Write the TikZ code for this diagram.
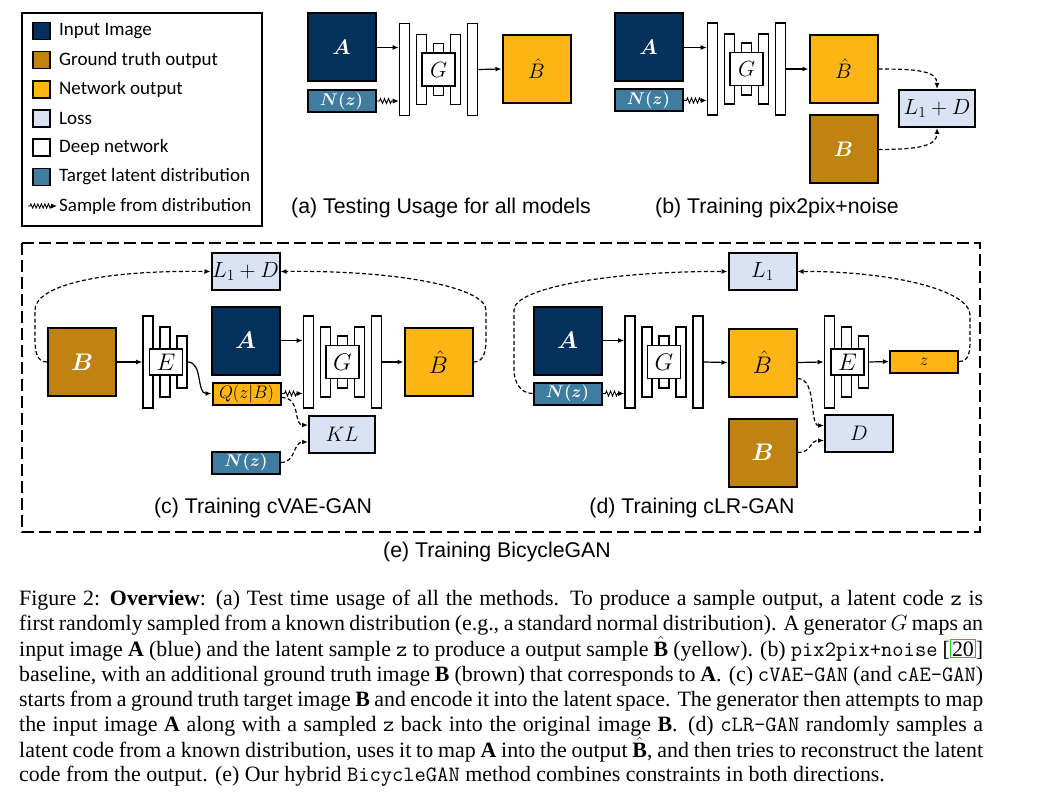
\RequirePackage{fix-cm}
\documentclass[tikz,border=0pt]{standalone}
\usepackage{fontspec}
\setmainfont{Liberation Serif}
\newfontfamily\legfont{Carlito}
\newfontfamily\capfont{Liberation Sans}
\usetikzlibrary{arrows.meta,decorations.pathmorphing}

\definecolor{inblue}{RGB}{3,49,91}
\definecolor{gtbrown}{RGB}{191,130,19}
\definecolor{netgold}{RGB}{253,181,22}
\definecolor{lossblue}{RGB}{218,227,243}
\definecolor{latblue}{RGB}{62,124,160}
\definecolor{citegreen}{RGB}{20,210,20}

\newcommand{\fs}[1]{\fontsize{#1}{#1}\selectfont}

\tikzset{
  box/.style={draw, line width=2pt, inner sep=0pt, minimum width=68pt, minimum height=68pt},
  imgA/.style={box, fill=inblue, text=white, font=\fs{21}\boldmath},
  imgB/.style={box, fill=gtbrown, text=white, font=\fs{21}\boldmath},
  imgBh/.style={box, fill=netgold, font=\fs{21}},
  lossbox/.style={draw, line width=2pt, fill=lossblue, inner sep=0pt, minimum width=68pt, minimum height=37pt},
  latent/.style={draw, line width=2pt, fill=latblue, text=white, inner sep=0pt, minimum width=68pt, minimum height=22pt, font=\fs{17}\boldmath},
  code/.style={latent, fill=netgold, text=black},
  bar/.style={draw, line width=1.6pt, fill=white, inner sep=0pt, minimum width=10pt},
  netbox/.style={draw, line width=1.6pt, fill=white, inner sep=0pt, minimum width=33pt, minimum height=33pt},
  arr/.style={line width=1.2pt, -{Latex[length=6pt,width=5pt]}},
  lossarr/.style={arr, dash pattern=on 4pt off 2.5pt},
  sample/.style={line width=0.9pt, -{Latex[length=6pt,width=5pt]}, decorate,
    decoration={zigzag, amplitude=2.5pt, segment length=4pt, pre length=3pt, post length=6pt}},
  swatch/.style={draw, line width=1.6pt, inner sep=0pt, minimum size=17pt},
  legtext/.style={anchor=west, inner sep=0pt, font=\legfont\fs{19}},
  subcap/.style={inner sep=0pt, font=\capfont\fs{21.3}},
  capline/.style={anchor=base west, inner sep=0pt, font=\fs{21.9}}
}

% generator: name, x, y, size, label
\newcommand{\gennet}[5]{
  \node[bar, minimum height=92pt] (#1l) at ({#2-34},#3) {};
  \node[bar, minimum height=70pt] (#1a) at ({#2-17},#3) {};
  \node[bar, minimum height=52pt] (#1b) at (#2,#3) {};
  \node[bar, minimum height=70pt] (#1c) at ({#2+17},#3) {};
  \node[bar, minimum height=92pt] (#1r) at ({#2+34},#3) {};
  \node[netbox, font=\fs{#4}] (#1) at (#2,#3) {#5};
}
% encoder: name, x, y, size, label
\newcommand{\encnet}[5]{
  \node[bar, minimum height=92pt] (#1l) at ({#2-17},#3) {};
  \node[bar, minimum height=70pt] (#1m) at (#2,#3) {};
  \node[bar, minimum height=52pt] (#1r) at ({#2+17},#3) {};
  \node[netbox, minimum height=26pt, font=\fs{#4}] (#1) at ({#2+1},#3) {#5};
}

\setlength{\fboxsep}{1pt}
\setlength{\fboxrule}{1pt}

\begin{document}
\begin{tikzpicture}[x=1pt,y=-1pt]
\useasboundingbox (0,0) rectangle (1039,805);
\fill[white] (0,0) rectangle (1039,805);

  % legend
\draw[line width=2pt] (22,13) rectangle (262,226);
\foreach \c/\t [count=\i] in {inblue/Input Image, gtbrown/Ground truth output, netgold/Network output, lossblue/Loss, white/Deep network, latblue/Target latent distribution}{
  \node[swatch, fill=\c] (sw\i) at (41.5,{31+29.2*(\i-1)}) {};
  \node[legtext] (lt\i) at (59,{31+29.2*(\i-1)}) {\t};
}
\coordinate (smp0) at (28,206);
\coordinate (smp1) at (57,206);
\draw[sample, decoration={amplitude=2pt, segment length=3.5pt, pre length=2pt, post length=5pt}] (smp0) -- (smp1);
\node[legtext] (lt7) at (59,206) {Sample from distribution};

  % (a) testing
\node[imgA] (aa) at (341.5,47.5) {$A$};
\node[latent] (nza) at (341.5,101) {$N(z)$};
\gennet{ga}{438.5}{69.5}{22}{$G$}
\node[imgBh] (bha) at (536.5,69) {$\hat{B}$};
\draw[arr] (aa.east) -- (aa.east -| gal.west);
\draw[sample] (nza.east) -- (nza.east -| gal.west);
\draw[arr] (gar.east) -- (bha.west);
\node[subcap] (capa) at (441,208) {(a) Testing Usage for all models};

  % (b) pix2pix+noise
\node[imgA] (ab) at (648.5,47.5) {$A$};
\node[latent] (nzb) at (648.5,100.5) {$N(z)$};
\gennet{gb}{746.5}{69}{22}{$G$}
\node[imgBh] (bhb) at (843.5,69) {$\hat{B}$};
\node[imgB] (bb) at (843.5,149.5) {$B$};
\node[lossbox, minimum width=76pt, font=\fs{22}] (ldb) at (937,108.5) {$L_1+D$};
\draw[arr] (ab.east) -- (ab.east -| gbl.west);
\draw[sample] (nzb.east) -- (nzb.east -| gbl.west);
\draw[arr] (gbr.east) -- (bhb.west);
\draw[lossarr] (bhb.east) .. controls +(40,0) and +(0,-18) .. (ldb.north);
\draw[lossarr] (bb.east) .. controls +(40,0) and +(0,18) .. (ldb.south);
\node[subcap] (capb) at (777,208) {(b) Training pix2pix+noise};

  % (e) frame
\draw[line width=2pt, dash pattern=on 12pt off 5pt] (22,243) rectangle (980,532);
\node[subcap] (cape) at (497,552) {(e) Training BicycleGAN};

  % (c) cVAE-GAN
\node[lossbox, font=\fs{22}] (ldc) at (245.5,271.5) {$L_1+D$};
\node[imgB, font=\fs{24}\boldmath] (bc) at (82,362) {$B$};
\encnet{ec}{165}{362}{24}{$E$}
\node[imgA, font=\fs{24}\boldmath] (ac) at (245.5,340.5) {$A$};
\node[code, font=\fs{18}] (qc) at (246.5,393.5) {$Q(z|B)$};
\gennet{gc}{342.5}{362}{24}{$G$}
\node[imgBh, font=\fs{24}] (bhc) at (438.5,362) {$\hat{B}$};
\node[lossbox, minimum width=66pt, font=\fs{21}] (klc) at (342,434) {$KL$};
\node[latent] (nzc) at (246,462.5) {$N(z)$};
\draw[arr] (bc.east) -- (ecl.west);
\draw[arr] (ecr.east) .. controls +(15,0) and +(-15,0) .. (qc.west);
\draw[arr] (ac.east) -- (ac.east -| gcl.west);
\draw[sample] (qc.east) -- (qc.east -| gcl.west);
\draw[arr] (gcr.east) -- (bhc.west);
\draw[lossarr] ([yshift=-4pt]qc.east) .. controls +(20,0) and +(-15,0) .. ([yshift=9pt]klc.west);
\draw[lossarr] (nzc.east) .. controls +(15,0) and +(-15,0) .. ([yshift=-8pt]klc.west);
\draw[lossarr] (bc.west) .. controls +(-10,0) and +(0,12) .. (35,340) -- (35,310) .. controls +(0,-22) and (90,270) .. (ldc.west);
\draw[lossarr] (bhc.east) .. controls +(10,0) and +(0,12) .. (486,340) -- (486,310) .. controls +(0,-22) and (400,270) .. (ldc.east);
\node[subcap] (capc) at (263,508) {(c) Training cVAE-GAN};

  % (d) cLR-GAN
\node[lossbox, font=\fs{22}] (l1d) at (762.5,271.5) {$L_1$};
\node[imgA, font=\fs{24}\boldmath] (ad) at (567.5,340.5) {$A$};
\node[latent] (nzd) at (567.5,393.5) {$N(z)$};
\gennet{gd}{664}{362}{24}{$G$}
\node[imgBh, font=\fs{24}] (bhd) at (762.5,362.5) {$\hat{B}$};
\encnet{ed}{846.5}{362}{24}{$E$}
\node[code, font=\fs{17}] (zd) at (924,361.5) {$z$};
\node[imgB, font=\fs{24}\boldmath] (bd) at (762.5,452.5) {$B$};
\node[lossbox, font=\fs{21}] (dd) at (859,433.5) {$D$};
\draw[arr] (ad.east) -- (ad.east -| gdl.west);
\draw[sample] (nzd.east) -- (nzd.east -| gdl.west);
\draw[arr] (gdr.east) -- (bhd.west);
\draw[arr] (bhd.east) -- (edl.west);
\draw[arr] (edr.east) -- (zd.west);
\draw[lossarr] ([yshift=-16pt]bhd.east) .. controls +(20,0) and +(-15,0) .. ([yshift=8pt]dd.west);
\draw[lossarr] (bd.east) .. controls +(15,0) and +(-15,0) .. ([yshift=-7pt]dd.west);
\draw[lossarr] (nzd.west) .. controls +(-12,0) and +(0,12) .. (514,370) -- (514,310) .. controls +(0,-22) and (610,271) .. (l1d.west);
\draw[lossarr] (zd.east) .. controls +(10,0) and +(0,12) .. (970,340) -- (970,315) .. controls +(0,-25) and (890,271) .. (l1d.east);
\node[subcap] (capd) at (692,508) {(d) Training cLR-GAN};

  % caption
\node[capline] (cl1) at (19,605) {\makebox[964pt][s]{Figure 2: \textbf{Overview}: (a) Test time usage of all the methods. To produce a sample output, a latent code \texttt{z} is}};
\node[capline] (cl2) at (19,630) {\makebox[964pt][s]{first randomly sampled from a known distribution (e.g., a standard normal distribution). A generator $G$ maps an}};
\node[capline] (cl3) at (19,656) {\makebox[964pt][s]{input image $\mathbf{A}$ (blue) and the latent sample \texttt{z} to produce a output sample $\hat{\mathbf{B}}$ (yellow). (b) \texttt{pix2pix+noise} [\fcolorbox{citegreen}{white}{20}]}};
\node[capline] (cl4) at (19,681) {\makebox[964pt][s]{baseline, with an additional ground truth image $\mathbf{B}$ (brown) that corresponds to $\mathbf{A}$. (c) \texttt{cVAE-GAN} (and \texttt{cAE-GAN})}};
\node[capline] (cl5) at (19,706) {\makebox[964pt][s]{starts from a ground truth target image $\mathbf{B}$ and encode it into the latent space. The generator then attempts to map}};
\node[capline] (cl6) at (19,731) {\makebox[964pt][s]{the input image $\mathbf{A}$ along with a sampled \texttt{z} back into the original image $\mathbf{B}$. (d) \texttt{cLR-GAN} randomly samples a}};
\node[capline] (cl7) at (19,757) {\makebox[964pt][s]{latent code from a known distribution, uses it to map $\mathbf{A}$ into the output $\hat{\mathbf{B}}$, and then tries to reconstruct the latent}};
\node[capline] (cl8) at (19,781) {code from the output. (e) Our hybrid \texttt{BicycleGAN} method combines constraints in both directions.};
\end{tikzpicture}
\end{document}
